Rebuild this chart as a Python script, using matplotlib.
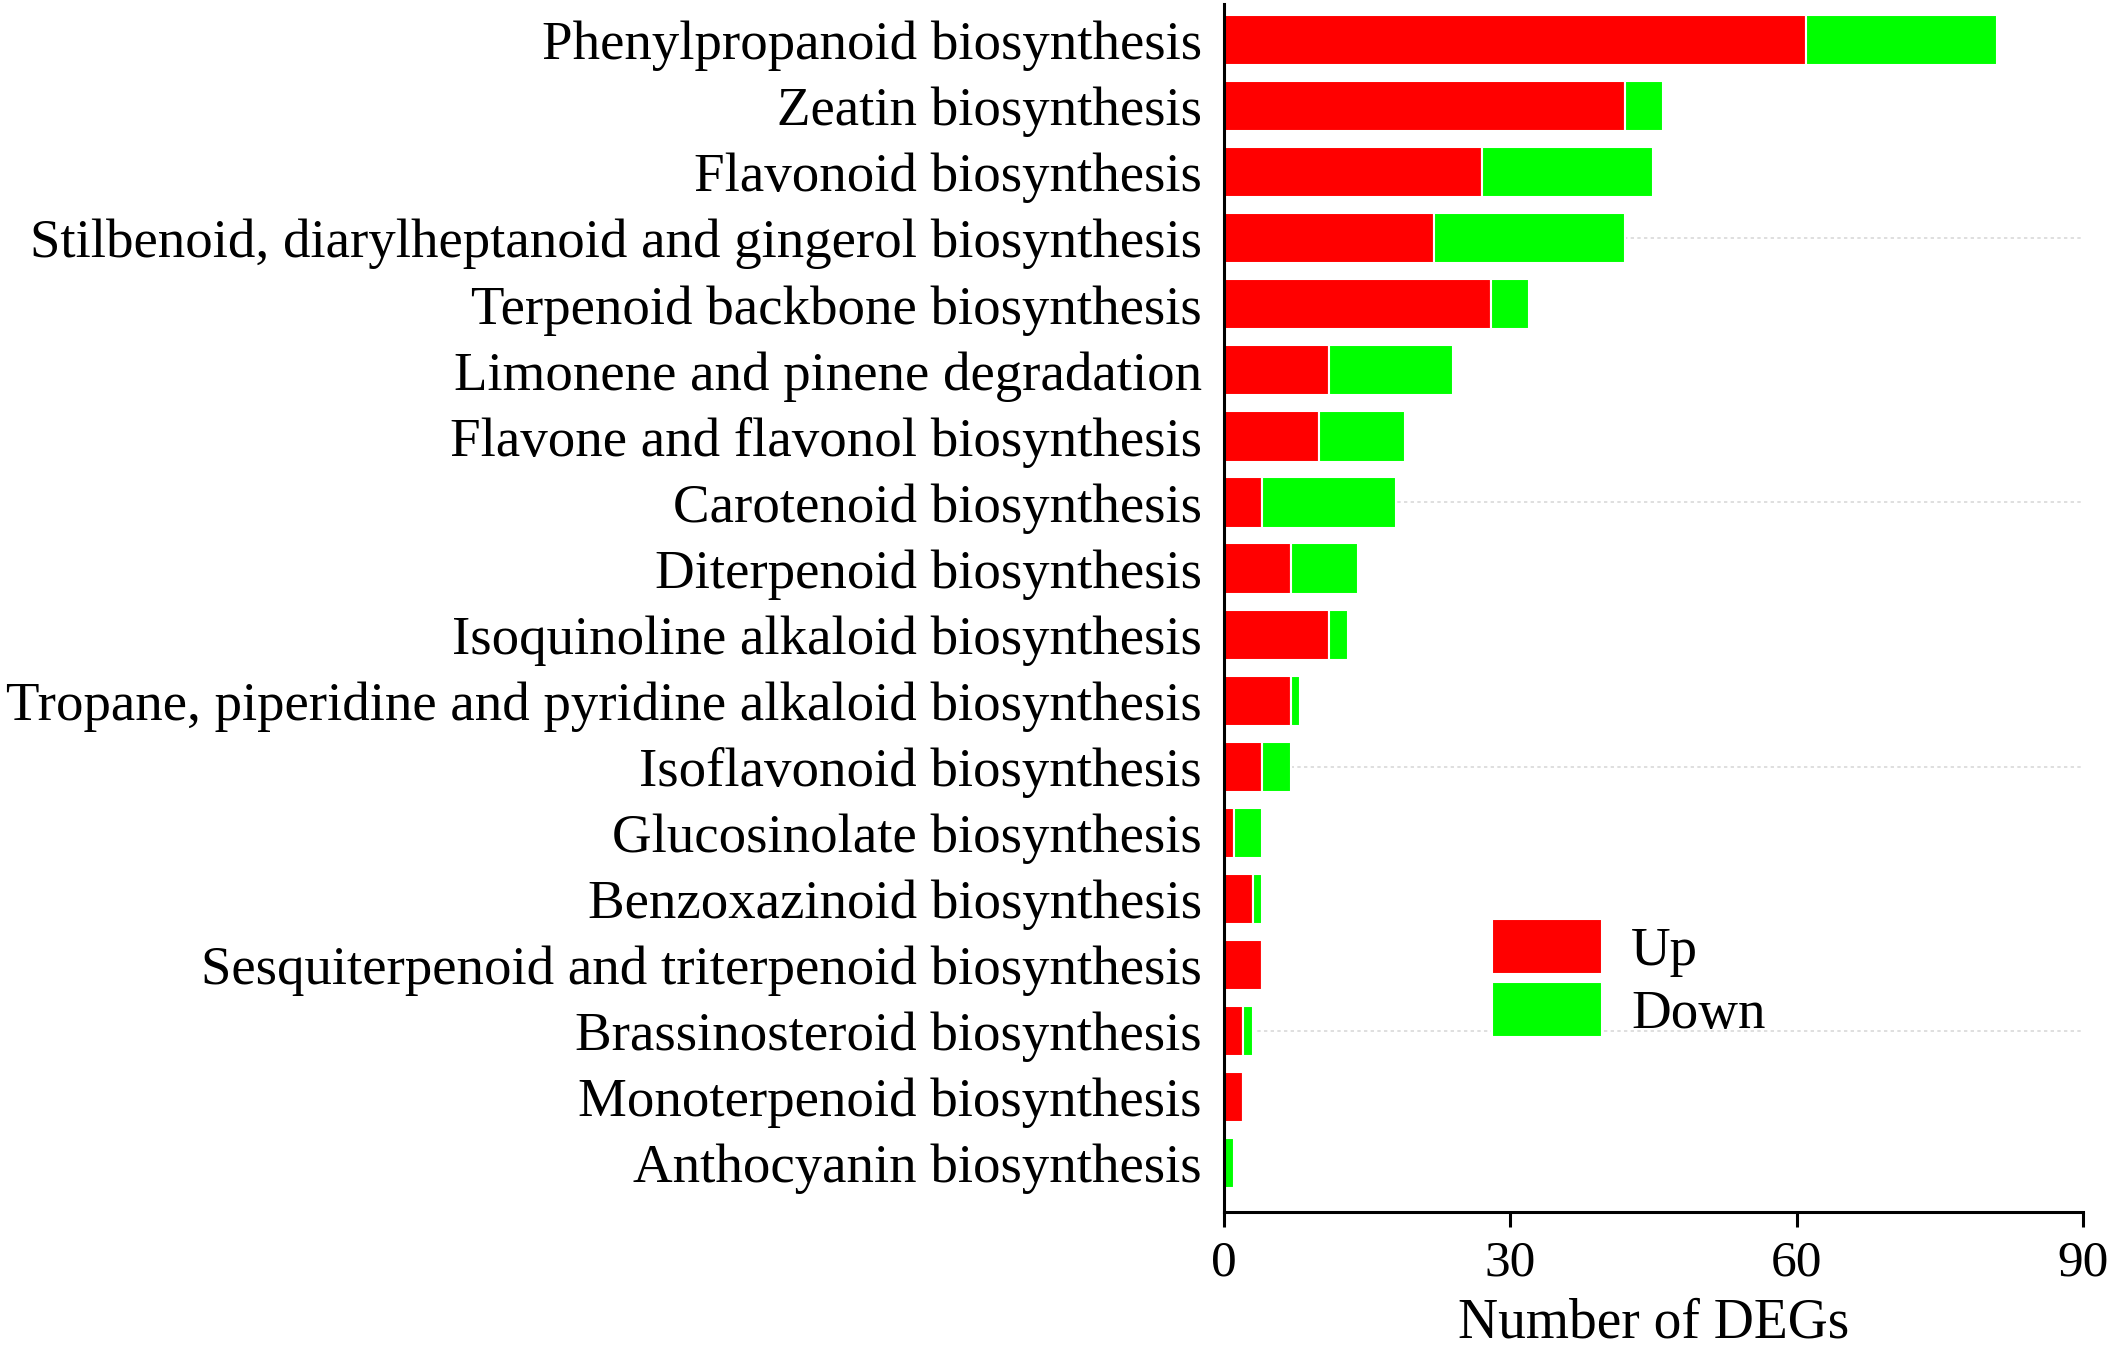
import matplotlib
matplotlib.use('Agg')
import matplotlib.pyplot as plt
import numpy as np

plt.rcParams['font.family'] = ['Liberation Serif', 'DejaVu Serif']

pathways = ['Phenylpropanoid biosynthesis',
            'Zeatin biosynthesis',
            'Flavonoid biosynthesis',
            'Stilbenoid, diarylheptanoid and gingerol biosynthesis',
            'Terpenoid backbone biosynthesis',
            'Limonene and pinene degradation',
            'Flavone and flavonol biosynthesis',
            'Carotenoid biosynthesis',
            'Diterpenoid biosynthesis',
            'Isoquinoline alkaloid biosynthesis',
            'Tropane, piperidine and pyridine alkaloid biosynthesis',
            'Isoflavonoid biosynthesis',
            'Glucosinolate biosynthesis',
            'Benzoxazinoid biosynthesis',
            'Sesquiterpenoid and triterpenoid biosynthesis',
            'Brassinosteroid biosynthesis',
            'Monoterpenoid biosynthesis',
            'Anthocyanin biosynthesis']
up = [61, 42, 27, 22, 28, 11, 10, 4, 7, 11, 7, 4, 1, 3, 4, 2, 2, 0]
down = [20, 4, 18, 20, 4, 13, 9, 14, 7, 2, 1, 3, 3, 1, 0, 1, 0, 1]
xticks = [0, 30, 60, 90]

fig = plt.figure(figsize=(21.11, 13.48), dpi=100)
ax = fig.add_axes([0.5798, 0.1009, 0.4069, 0.8961])

y = np.arange(len(pathways))
# faint dotted guide lines every 4th row
for i in range(3, len(pathways), 4):
    ax.axhline(i, color='#d9d9d9', lw=1.2, ls=(0, (2, 2)), zorder=0)

ax.barh(y, up, height=0.76, color='#ff0000', edgecolor='white', linewidth=1.5, label='Up', zorder=2)
ax.barh(y, down, left=up, height=0.76, color='#00ff00', edgecolor='white', linewidth=1.5, label='Down', zorder=2)

ax.set_ylim(17.74, -0.545)
ax.set_xlim(0, 90)
ax.set_yticks(y)
ax.set_yticklabels(pathways, fontsize=39.5)
ax.set_xticks(xticks)
ax.set_xticklabels([str(t) for t in xticks], fontsize=37)
ax.tick_params(axis='y', length=0, pad=16)
ax.tick_params(axis='x', length=11, width=2.2, pad=9, direction='out')
for s in ['top', 'right']:
    ax.spines[s].set_visible(False)
for s in ['left', 'bottom']:
    ax.spines[s].set_linewidth(2.2)
ax.set_xlabel('Number of DEGs', fontsize=40, labelpad=8)

leg = ax.legend(loc='upper left', bbox_to_anchor=(0.28, 0.265), frameon=False, fontsize=39.5,
                borderpad=0, handlelength=2.0, handleheight=1.17, handletextpad=0.54,
                labelspacing=0.08)

fig.savefig('out.png', dpi=100)
